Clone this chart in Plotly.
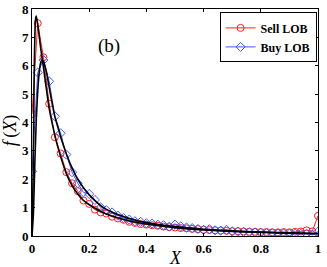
import plotly.graph_objects as go

# ---- data ----
x_data = [round(i * 0.02, 2) for i in range(51)]

sell_lob = [4.30, 7.50, 6.30, 4.66, 3.48, 2.91, 2.25, 1.86, 1.58, 1.25,
            1.13, 0.93, 0.83, 0.79, 0.68, 0.62, 0.57, 0.50, 0.46, 0.42,
            0.40, 0.38, 0.36, 0.33, 0.31, 0.30, 0.28, 0.27, 0.25, 0.24,
            0.22, 0.21, 0.20, 0.19, 0.18, 0.17, 0.17, 0.16, 0.15, 0.15,
            0.14, 0.14, 0.13, 0.13, 0.14, 0.13, 0.15, 0.16, 0.20, 0.16,
            0.71]

buy_lob = [2.28, 5.76, 6.20, 5.45, 4.22, 3.62, 2.87, 2.25, 1.86, 1.54,
           1.48, 1.27, 1.01, 0.91, 0.83, 0.72, 0.63, 0.58, 0.52, 0.50,
           0.45, 0.44, 0.40, 0.38, 0.33, 0.40, 0.34, 0.30, 0.28, 0.25,
           0.22, 0.24, 0.20, 0.19, 0.22, 0.16, 0.15, 0.14, 0.13, 0.12,
           0.11, 0.10, 0.10, 0.09, 0.09, 0.08, 0.08, 0.08, 0.08, 0.05,
           0.15]

sell_fit_x = [0, 0.004, 0.008, 0.012, 0.015, 0.02, 0.03, 0.04, 0.05, 0.06,
              0.07, 0.08, 0.09, 0.10, 0.12, 0.14, 0.16, 0.18, 0.20, 0.25,
              0.30, 0.35, 0.40, 0.50, 0.60, 0.70, 0.80, 0.90, 1.00]
sell_fit_y = [0, 2.2, 6.0, 7.6, 7.75, 7.45, 6.65, 5.95, 5.2, 4.5,
              4.0, 3.55, 3.15, 2.8, 2.2, 1.78, 1.48, 1.25, 1.10, 0.82,
              0.64, 0.51, 0.42, 0.29, 0.21, 0.16, 0.13, 0.10, 0.08]

buy_fit_x = [0, 0.005, 0.01, 0.015, 0.02, 0.025, 0.03, 0.035, 0.04, 0.05,
             0.06, 0.07, 0.08, 0.09, 0.10, 0.12, 0.14, 0.16, 0.18, 0.20,
             0.25, 0.30, 0.35, 0.40, 0.50, 0.60, 0.70, 0.80, 0.90, 1.00]
buy_fit_y = [0, 0.8, 2.6, 4.1, 5.1, 5.75, 6.1, 6.2, 6.15, 5.8,
             5.25, 4.7, 4.2, 3.85, 3.5, 2.9, 2.4, 2.0, 1.7, 1.45,
             1.0, 0.76, 0.59, 0.47, 0.33, 0.24, 0.18, 0.14, 0.11, 0.09]

x_ticks = [0, 0.2, 0.4, 0.6, 0.8, 1]
x_tick_labels = ["0", "0.2", "0.4", "0.6", "0.8", "1"]
y_ticks = [0, 1, 2, 3, 4, 5, 6, 7, 8]
y_tick_labels = ["0", "1", "2", "3", "4", "5", "6", "7", "8"]

SERIF = "Liberation Serif"

fig = go.Figure()
fig.add_trace(go.Scatter(
    x=x_data, y=sell_lob, mode="lines+markers", name="Sell LOB",
    line=dict(color="rgb(255,30,30)", width=1),
    marker=dict(symbol="circle-open", size=7, color="rgb(255,30,30)",
                line=dict(width=1))))
fig.add_trace(go.Scatter(
    x=x_data, y=buy_lob, mode="lines+markers", name="Buy LOB",
    line=dict(color="rgb(60,90,255)", width=1),
    marker=dict(symbol="diamond-open", size=7, color="rgb(60,90,255)",
                line=dict(width=1))))
fig.add_trace(go.Scatter(
    x=sell_fit_x, y=sell_fit_y, mode="lines", showlegend=False,
    line=dict(color="black", width=1.6, shape="spline", smoothing=0.6)))
fig.add_trace(go.Scatter(
    x=buy_fit_x, y=buy_fit_y, mode="lines", showlegend=False,
    line=dict(color="black", width=1.6, shape="spline", smoothing=0.6)))

fig.add_annotation(x=0.224, y=0.894, xref="paper", yref="paper",
                   text="(b)", showarrow=False,
                   font=dict(family=SERIF, size=19, color="black"))
# axis titles
fig.add_annotation(x=0.5, y=-0.045, xref="paper", yref="paper",
                   text="<i>X</i>", showarrow=False, yanchor="top",
                   font=dict(family=SERIF, size=18, color="black"))
fig.add_annotation(x=-0.03, y=0.465, xref="paper", yref="paper",
                   text="<i>f</i>\u2009(<i>X</i>)", showarrow=False,
                   textangle=-90, xanchor="right",
                   font=dict(family=SERIF, size=18, color="black"))

axis_common = dict(showgrid=False, zeroline=False, showline=True,
                   linecolor="black", linewidth=1, mirror="ticks",
                   ticks="inside", ticklen=3, tickcolor="black",
                   automargin=False,
                   tickfont=dict(family=SERIF, size=13, color="black",
                                 weight="bold"))

fig.update_xaxes(range=[0, 1], tickvals=x_ticks, ticktext=x_tick_labels,
                 **axis_common)
fig.update_yaxes(range=[0, 8], tickvals=y_ticks, ticktext=y_tick_labels,
                 **axis_common)

fig.update_layout(
    width=327, height=267,
    margin=dict(l=32, r=9, t=9, b=31),
    paper_bgcolor="white", plot_bgcolor="white",
    legend=dict(x=0.995, y=0.985, xanchor="right", yanchor="top",
                bgcolor="white", bordercolor="black", borderwidth=1,
                font=dict(family=SERIF, size=12, color="black", weight="bold"),
                itemwidth=30, tracegroupgap=0),
)

fig.write_html("out.html",
               config={"displayModeBar": False},
               post_script="document.body.style.margin='0';"
                           "document.body.style.overflow='hidden';")
